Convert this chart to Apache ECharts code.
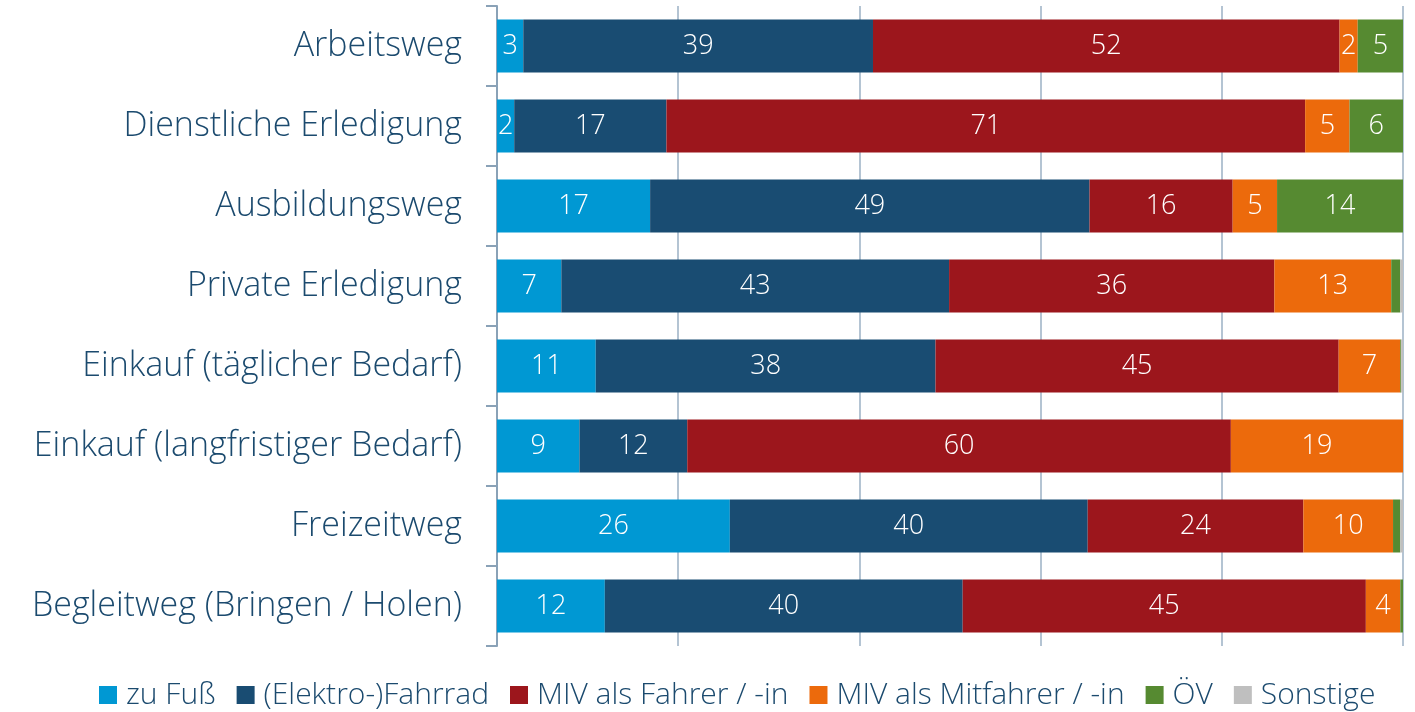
<!DOCTYPE html>
<html>
<head>
<meta charset="utf-8">
<script src="https://cdn.jsdelivr.net/npm/echarts@6/dist/echarts.min.js"></script>
<style>
  html, body { margin: 0; padding: 0; background: #fff; }
  #chart { width: 1415px; height: 712px; }
</style>
</head>
<body>
<div id="chart"></div>
<script>
// Wegezwecke (von oben nach unten)
const categories = [
  'Arbeitsweg',
  'Dienstliche Erledigung',
  'Ausbildungsweg',
  'Private Erledigung',
  'Einkauf (täglicher Bedarf)',
  'Einkauf (langfristiger Bedarf)',
  'Freizeitweg',
  'Begleitweg (Bringen / Holen)',
]

// Anteile in %
const zuFuss     = [2.9, 1.9, 16.9, 7.1, 10.9, 9.1, 25.7, 11.9]
const fahrrad    = [38.6, 16.8, 48.5, 42.8, 37.5, 11.9, 39.5, 39.5]
const mivFahrer  = [51.5, 70.5, 15.8, 35.9, 44.5, 60.0, 23.8, 44.5]
const mivMitf    = [2.0, 4.9, 4.9, 12.9, 6.8, 19.0, 9.9, 3.8]
const oev        = [5.0, 5.9, 13.9, 1.0, 0.1, 0, 0.8, 0.3]
const sonstige   = [0, 0, 0, 0.3, 0.2, 0, 0.3, 0]

const seriesDefs = [
  { name: 'zu Fuß', data: zuFuss, color: '#0098d3' },
  { name: '(Elektro-)Fahrrad', data: fahrrad, color: '#194c72' },
  { name: 'MIV als Fahrer / -in', data: mivFahrer, color: '#9c161c' },
  { name: 'MIV als Mitfahrer / -in', data: mivMitf, color: '#ec6a0c' },
  { name: 'ÖV', data: oev, color: '#568a31' },
  { name: 'Sonstige', data: sonstige, color: '#bfbfbf' },
]

const textColor = '#1b4a6e'
const fontFamily = 'Open Sans'

const chart = echarts.init(document.getElementById('chart'))

chart.setOption({
  animation: false,
  textStyle: { fontFamily: fontFamily },
  grid: {
    left: 497,
    right: 12,
    top: 6,
    height: 640,
  },
  legend: {
    top: 675,
    left: 94,
    itemWidth: 18,
    itemHeight: 18,
    itemGap: 21,
    icon: 'rect',
    textStyle: {
      color: textColor,
      fontSize: 30,
      fontWeight: 300,
      fontFamily: fontFamily,
      padding: [0, 0, 0, 4],
    },
    data: seriesDefs.map(s => s.name),
  },
  xAxis: {
    type: 'value',
    min: 0,
    max: 100,
    interval: 20,
    axisLabel: { show: false },
    axisLine: { show: false },
    axisTick: { show: false },
    splitLine: {
      show: true,
      lineStyle: { color: '#9bb1c4', width: 1.5 },
    },
  },
  yAxis: {
    type: 'category',
    inverse: true,
    data: categories,
    axisLine: {
      show: true,
      lineStyle: { color: '#8aa2b7', width: 2 },
    },
    axisTick: {
      show: true,
      length: 11,
      lineStyle: { color: '#8aa2b7', width: 2 },
    },
    axisLabel: {
      color: textColor,
      fontSize: 34,
      fontWeight: 300,
      margin: 35,
    },
  },
  series: seriesDefs.map(s => ({
    name: s.name,
    type: 'bar',
    stack: 'total',
    barWidth: 53,
    data: s.data,
    itemStyle: { color: s.color },
    label: {
      show: true,
      position: 'inside',
      color: '#ffffff',
      fontSize: 27,
      fontWeight: 300,
      formatter: p => (p.value >= 1.5 ? String(Math.round(p.value)) : ''),
    },
  })),
})
</script>
</body>
</html>
